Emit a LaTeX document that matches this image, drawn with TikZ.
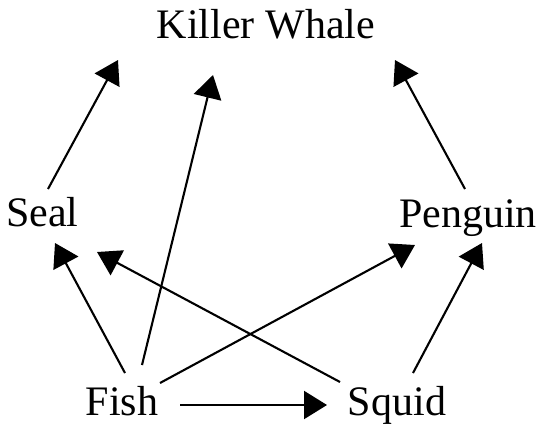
\documentclass[tikz,border=0pt]{standalone}
\usepackage{fontspec}
\setmainfont{Liberation Serif}
\usetikzlibrary{arrows.meta,calc}
\begin{document}
\begin{tikzpicture}[x=1pt,y=-1pt,
  lbl/.style={anchor=base,inner sep=0pt,font=\fontsize{42}{47}\selectfont},
  arr/.style={line width=2.1pt,-{Triangle[length=23pt,width=28pt]}}]
\path[use as bounding box,fill=white] (0,0) rectangle (543,426);
\node[lbl] (kw) at (266,38) {Killer Whale};
\node[lbl] (seal) at (42.5,226) {Seal};
\node[lbl] (penguin) at (468,227) {Penguin};
\node[lbl] (fish) at (122,415) {Fish};
\node[lbl] (squid) at (397,415) {Squid};
\draw[arr] ($(seal.base)+(5.5,-37)$) -- ($(kw.base)+(-148,22)$);
\draw[arr] ($(fish.base)+(20,-50)$) -- ($(kw.base)+(-53,37)$);
\draw[arr] ($(penguin.base)+(-3,-38)$) -- ($(kw.base)+(129,22)$);
\draw[arr] ($(fish.base)+(3,-42)$) -- ($(seal.base)+(12.5,17)$);
\draw[arr] ($(squid.base)+(-57,-33)$) -- ($(seal.base)+(54.5,26)$);
\draw[arr] ($(fish.base)+(38,-32)$) -- ($(penguin.base)+(-53,18)$);
\draw[arr] ($(squid.base)+(16,-42)$) -- ($(penguin.base)+(14,16)$);
\draw[arr] ($(fish.base)+(58,-10)$) -- ($(squid.base)+(-70,-10)$);
\end{tikzpicture}
\end{document}
